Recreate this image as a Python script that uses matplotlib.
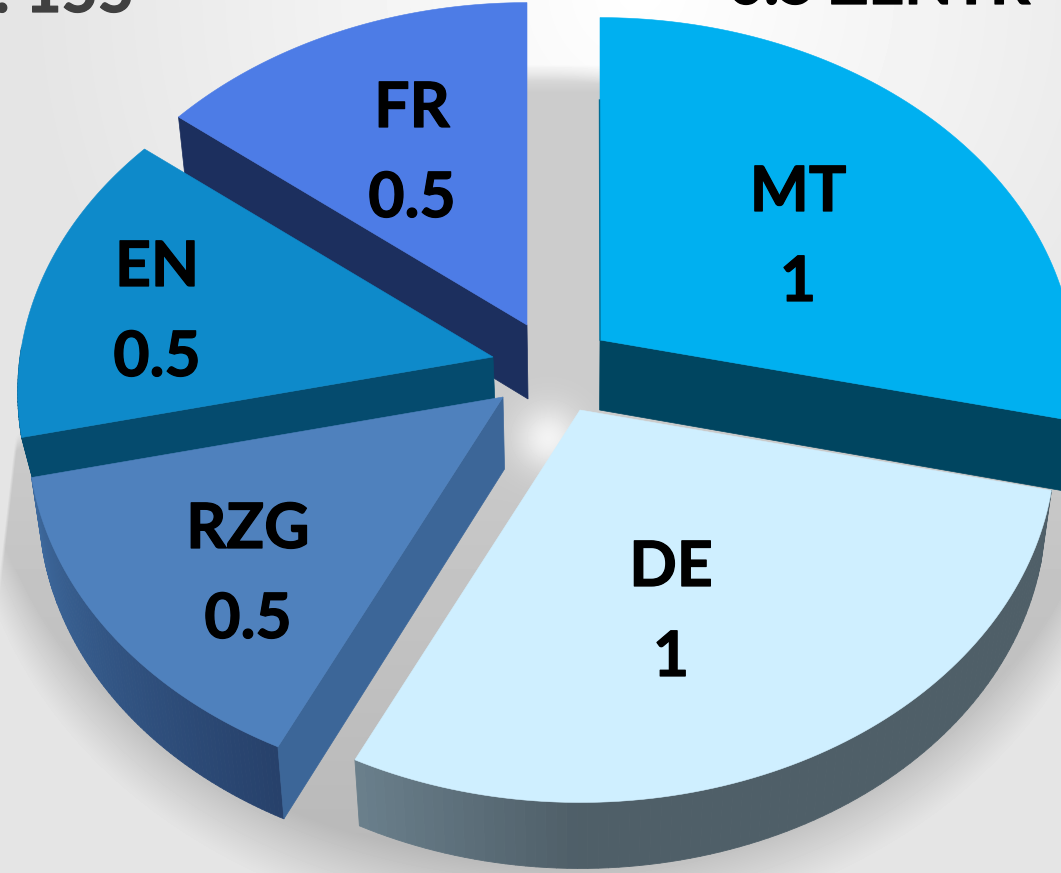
# plot.py - exploded 3D-look pie, drawn with plain polygons
import numpy as np
import matplotlib
matplotlib.use('Agg')
import matplotlib.pyplot as plt
import matplotlib.patheffects as pe
from matplotlib.collections import PolyCollection
from matplotlib.patches import Polygon

plt.rcParams['font.family'] = ['Lato', 'Open Sans', 'DejaVu Sans']

# Data, clockwise from 12 o'clock
labels = ['MT', 'DE', 'RZG', 'EN', 'FR']
values = [1, 1, 0.5, 0.5, 0.5]
value_text = ['1', '1', '0.5', '0.5', '0.5']

# Colours per slice
top_colors = ['#00B0F0', '#CFEFFF', '#4F81BD', '#0E8ACA', '#4D7CE6']
wall_colors = ['#004560', '#5A6A72', '#3C6698', '#054B6E', '#1C2F5E']

# Layout in pixels
W, H = 1061, 873
apex = {'MT': (600, 340), 'DE': (580, 410), 'RZG': (503, 397),
        'EN': (493, 357), 'FR': (527, 325)}
label_pos = {'MT': (798, 193), 'DE': (671, 568), 'RZG': (248, 530),
             'EN': (157, 268), 'FR': (412, 109)}
depths = {'MT': 70, 'DE': 66, 'RZG': 72, 'EN': 42, 'FR': 74}
cut_face = {'MT': -1, 'RZG': 0, 'EN': 0, 'FR': 0}   # which end of the arc shows a cut wall
line_gap = 90
draw_order = ['FR', 'EN', 'MT', 'RZG', 'DE']
RX, RY, PERSP = 473, 354, 0.098


def project(theta, centre):
    # circle -> tilted ellipse, with the near side a little bigger
    s, c = np.sin(theta), np.cos(theta)
    w = 1 + PERSP * s
    return np.column_stack([centre[0] + RX * c / w, centre[1] - RY * s / w])


def drop(pts, depth):
    # lower rim of the pie, straight below the top with a small pull inwards
    pts = np.atleast_2d(pts)
    return np.column_stack([pts[:, 0] + 0.02 * (580 - pts[:, 0]), pts[:, 1] + depth])


def rim_shade(name, t):
    deg = np.degrees(t)
    deg = np.where(deg > 0, deg - 360, deg)
    if name == 'DE':
        v = np.interp(deg, (-116, -90, -60, -13), (0.42, 0.31, 0.31, 0.31))
        return np.column_stack([v, v * 1.2, v * 1.32])
    if name == 'RZG':
        f = np.interp(deg, (-168, -116), (0, 1))
        a, b = np.array([0x3E, 0x6A, 0x9E]) / 255, np.array([0x27, 0x41, 0x6B]) / 255
        return a + (b - a) * f[:, None]
    c = matplotlib.colors.to_rgb(wall_colors[labels.index(name)])
    return np.tile(c, (len(t), 1))


# Background: pale radial fade, then the soft cast shadow
yy, xx = np.mgrid[0:H, 0:W]
d = np.hypot(xx - 640, yy + 10)
bg = 1 - 0.105 * np.clip(d / 620, 0, 1)
shadow_a = np.interp(yy, [67, 380, 475], [470, 470, 575])
shadow_b = np.where(yy < 475, 415, 460)
r = np.hypot((xx - 545) / shadow_a, (yy - 475) / shadow_b)
soft = np.interp(yy, [60, 500, 873], [0.05, 0.03, 0.17])
shadow = np.clip((1 - r) / soft, 0, 1)
shadow = shadow * np.interp(yy, [64, 67, 92], [0, 0.45, 1])
left_edge = 19 - (yy - 400) * 0.115
shadow = shadow * np.clip((xx - left_edge) / 3, 0, 1)
shade_to = np.interp(yy, [400, 873], [0.797, 0.72])
bg = bg + (shade_to - bg) * shadow
spot = np.exp(-(((xx - 548) / 32) ** 2 + ((yy - 438) / 32) ** 2))
bg = bg + (0.95 - bg) * spot
bg = np.clip(bg, 0, 1)

fig = plt.figure(figsize=(W / 100, H / 100), dpi=100)
ax = fig.add_axes([0, 0, 1, 1])
ax.set_xlim(0, W)
ax.set_ylim(H, 0)
ax.axis('off')
ax.imshow(bg, cmap='gray', vmin=0, vmax=1, extent=(0, W, H, 0), aspect='auto', zorder=0)

# Slice angles from the values
total = sum(values)
edges = 90 - np.cumsum([0] + values) / total * 360
spans = {n: (edges[i], edges[i + 1]) for i, n in enumerate(labels)}

heavy = [pe.withStroke(linewidth=0.9, foreground='black')]
z = 2
for name in draw_order:
    i = labels.index(name)
    a0, a1 = np.radians(spans[name])
    t = np.linspace(a0, a1, 90)
    arc = project(t, apex[name])
    low = drop(arc, depths[name])
    centre = np.array([apex[name]], dtype=float)

    # outer rim as thin quads so it can carry a gradient, front half only
    keep = [k for k in range(len(t) - 1) if np.sin(t[k]) < 0.02]
    quads = [np.array([arc[k], arc[k + 1], low[k + 1], low[k]]) for k in keep]
    if quads:
        rim = PolyCollection(quads, facecolors=rim_shade(name, t[keep]), edgecolors='face',
                             linewidths=0.6, zorder=z)
        ax.add_collection(rim)

    # flat cut face
    if name in cut_face:
        wall = wall_colors[i]
        end = arc[cut_face[name]]
        face = np.vstack([centre, end, drop(end, depths[name]), drop(centre, depths[name])])
        ax.add_patch(Polygon(face, closed=True, fc=wall, ec=wall, lw=0.5, zorder=z + 1))

    # top surface
    top = np.vstack([centre, arc])
    ax.add_patch(Polygon(top, closed=True, fc=top_colors[i], ec=top_colors[i], lw=0.4, zorder=z + 2))

    x, y = label_pos[name]
    for yt, s in ((y, name), (y + line_gap, value_text[i])):
        ax.text(x, yt, s, ha='center', va='center', fontsize=45, fontweight='bold',
                color='black', zorder=30, path_effects=heavy)
    z += 3

# thin dark seam on the left cut of MT
ax.plot([599.5, 600], [100, 340], color='#006C94', lw=1, zorder=z)

# Cut-off headings along the top edge
ax.text(-6, 12, ': 155', ha='left', va='baseline', fontsize=45, fontweight='bold',
        color='#404040', zorder=30, path_effects=[pe.withStroke(linewidth=0.9, foreground='#404040')])
ax.text(728, 4, '0.5 ZENTR', ha='left', va='baseline', fontsize=45, fontweight='bold',
        color='black', zorder=30, path_effects=heavy)

fig.savefig('out.png', dpi=100)
